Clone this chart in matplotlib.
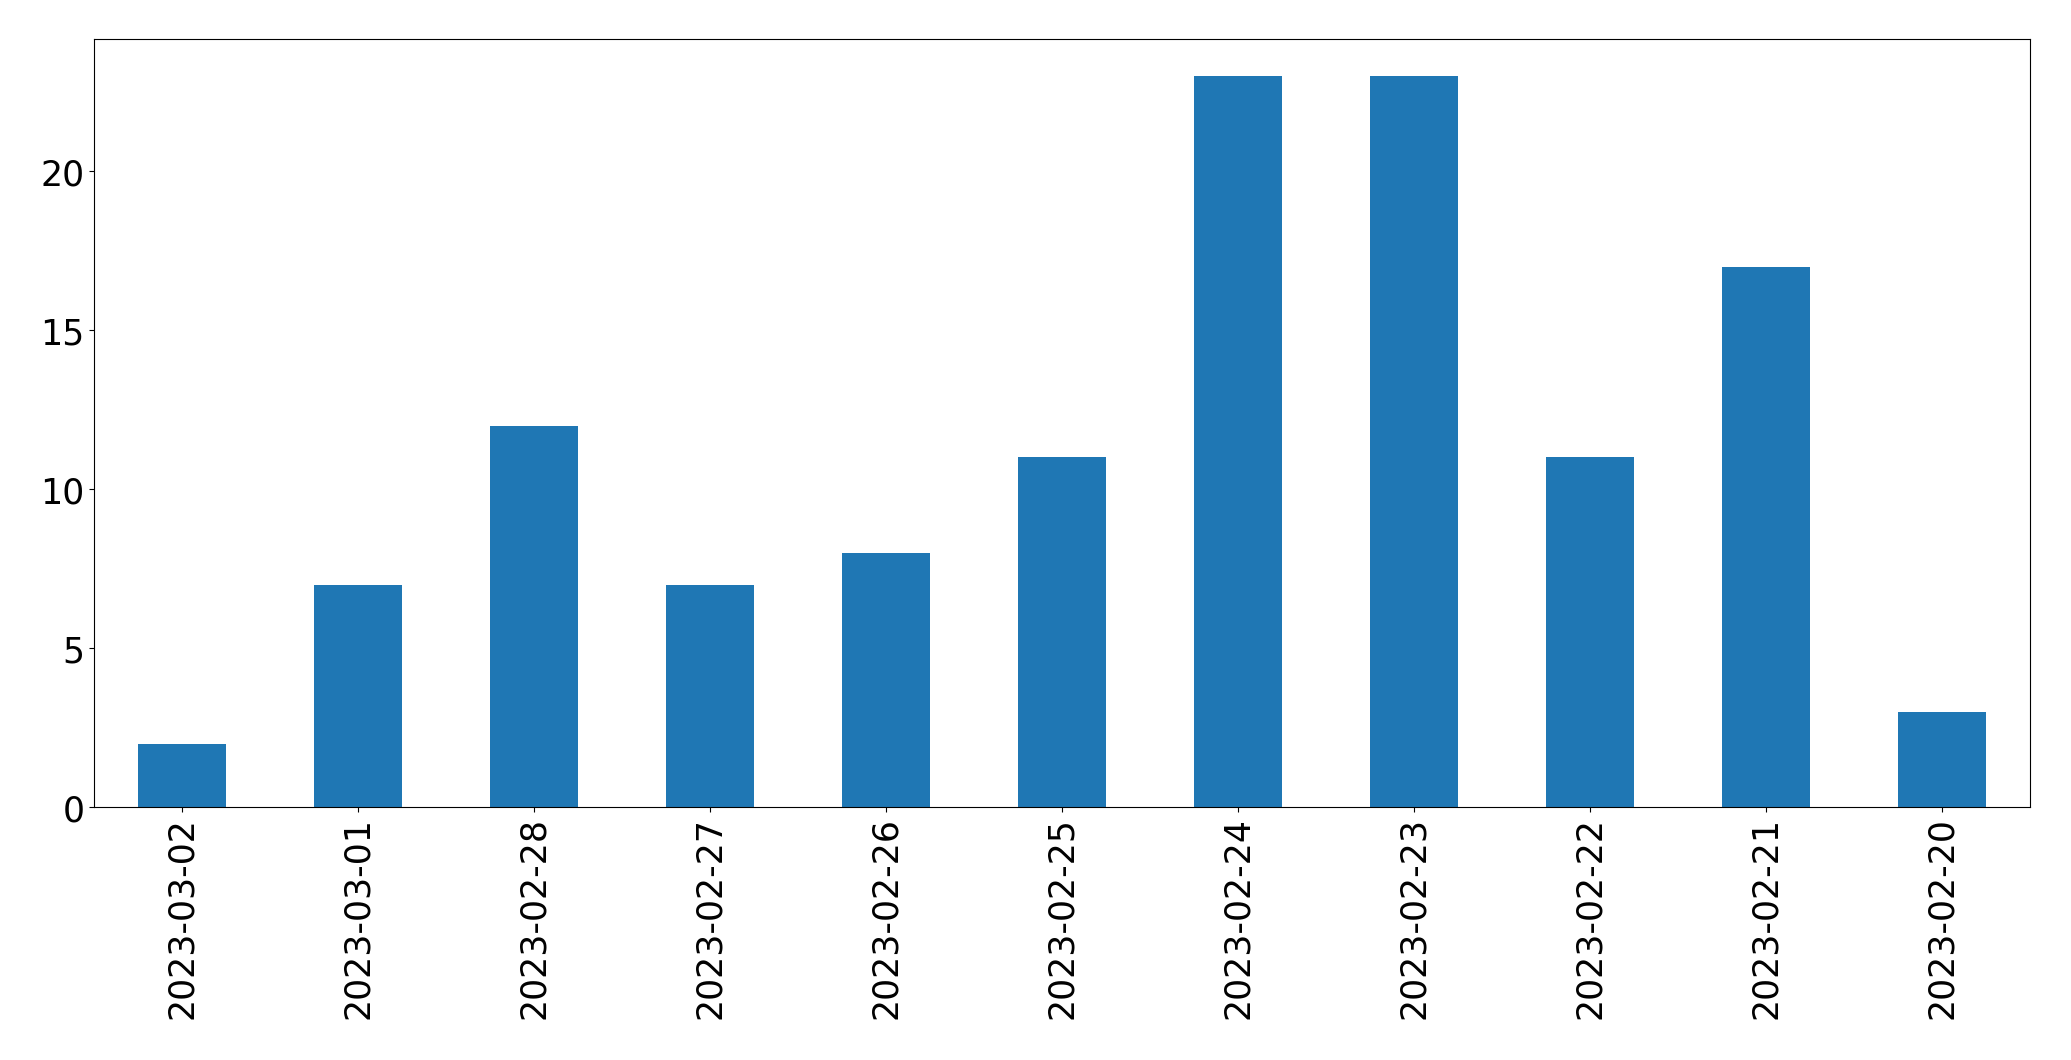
import pandas as pd
from matplotlib import pyplot as plt

dates = ['2023-03-02', '2023-03-01', '2023-02-28', '2023-02-27', '2023-02-26',
         '2023-02-25', '2023-02-24', '2023-02-23', '2023-02-22', '2023-02-21',
         '2023-02-20']
counts = [2, 7, 12, 7, 8, 11, 23, 23, 11, 17, 3]

s = pd.Series(counts, index=dates)

fig = plt.figure(figsize=(20.71, 10.605), dpi=100)
ax = fig.add_axes([94 / 2071, 1 - 808 / 1061, (2030 - 94) / 2071, (808 - 40) / 1061])
s.plot(kind='bar', ax=ax, color='#1f77b4', fontsize=25)
ax.tick_params(labelsize=25)
fig.savefig('out.png', dpi=100)
